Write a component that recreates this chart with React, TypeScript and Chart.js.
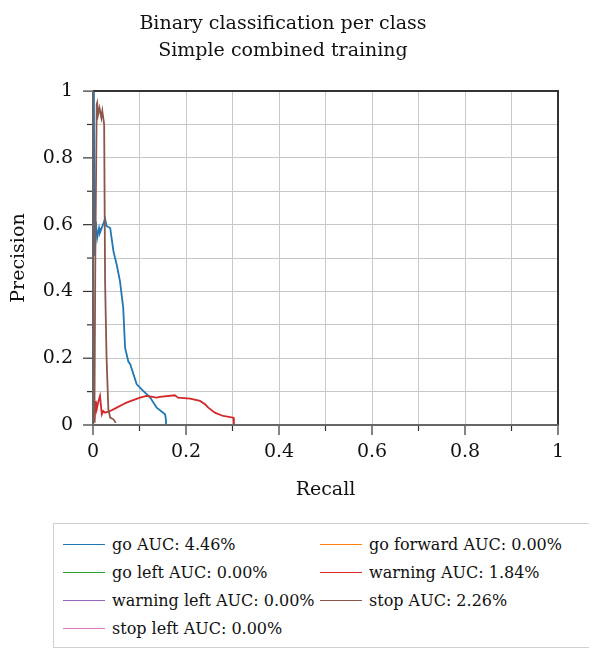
import React, { useEffect, useRef } from "react";
import { Chart, registerables } from "chart.js";

Chart.register(...registerables);

const titleLines = ["Binary classification per class", "Simple combined training"];
const xTitle = "Recall";
const yTitle = "Precision";
const tickValues = [0, 0.1, 0.2, 0.3, 0.4, 0.5, 0.6, 0.7, 0.8, 0.9, 1];

const seriesLabels = [
  "go AUC: 4.46%",
  "go forward AUC: 0.00%",
  "go left AUC: 0.00%",
  "warning AUC: 1.84%",
  "warning left AUC: 0.00%",
  "stop AUC: 2.26%",
  "stop left AUC: 0.00%",
];
const seriesColors = ["#1f77b4", "#ff7f0e", "#2ca02c", "#d62728", "#9467bd", "#8c564b", "#e377c2"];

// go
const goRecall = [0.002, 0.003, 0.006, 0.009, 0.013, 0.015, 0.026, 0.029, 0.037, 0.040, 0.044, 0.051, 0.058, 0.065, 0.069, 0.076, 0.080, 0.094, 0.108, 0.123, 0.137, 0.155, 0.157, 0.157];
const goPrecision = [1.0, 0.506, 0.61, 0.56, 0.59, 0.576, 0.617, 0.596, 0.59, 0.56, 0.52, 0.48, 0.431, 0.351, 0.231, 0.19, 0.182, 0.122, 0.102, 0.082, 0.052, 0.032, 0.015, 0.002];
// go forward, go left, warning left, stop left: no points
const goForwardRecall: number[] = [];
const goForwardPrecision: number[] = [];
const goLeftRecall: number[] = [];
const goLeftPrecision: number[] = [];
const warningLeftRecall: number[] = [];
const warningLeftPrecision: number[] = [];
const stopLeftRecall: number[] = [];
const stopLeftPrecision: number[] = [];
// warning
const warningRecall = [0.003, 0.006, 0.008, 0.011, 0.015, 0.019, 0.022, 0.026, 0.037, 0.051, 0.065, 0.072, 0.101, 0.115, 0.137, 0.144, 0.176, 0.183, 0.209, 0.23, 0.241, 0.248, 0.262, 0.28, 0.302, 0.303];
const warningPrecision = [0.007, 0.072, 0.047, 0.067, 0.087, 0.032, 0.042, 0.037, 0.042, 0.052, 0.062, 0.067, 0.082, 0.087, 0.082, 0.084, 0.089, 0.082, 0.079, 0.072, 0.062, 0.052, 0.037, 0.027, 0.022, 0.002];
// stop
const stopRecall = [0.003, 0.005, 0.008, 0.009, 0.011, 0.014, 0.018, 0.020, 0.023, 0.024, 0.026, 0.029, 0.033, 0.037, 0.044, 0.049];
const stopPrecision = [0.007, 0.5, 0.96, 0.965, 0.93, 0.95, 0.92, 0.94, 0.91, 0.90, 0.43, 0.21, 0.047, 0.022, 0.017, 0.007];

const seriesRecall = [goRecall, goForwardRecall, goLeftRecall, warningRecall, warningLeftRecall, stopRecall, stopLeftRecall];
const seriesPrecision = [goPrecision, goForwardPrecision, goLeftPrecision, warningPrecision, warningLeftPrecision, stopPrecision, stopLeftPrecision];

const FONT = "'DejaVu Serif', 'Liberation Serif', serif";

const framePlugin = {
  id: "frame",
  afterDraw(chart: any) {
    const { ctx, chartArea: a, scales } = chart;
    ctx.save();
    ctx.strokeStyle = "#333";
    ctx.lineWidth = 1.2;
    tickValues.forEach((v, i) => {
      const major = i % 2 === 0;
      const len = major ? 10 : 6;
      const px = scales.x.getPixelForValue(v);
      ctx.beginPath();
      ctx.moveTo(px, a.bottom);
      ctx.lineTo(px, a.bottom + len);
      ctx.stroke();
      const py = scales.y.getPixelForValue(v);
      ctx.beginPath();
      ctx.moveTo(a.left, py);
      ctx.lineTo(a.left - len, py);
      ctx.stroke();
    });
    ctx.strokeStyle = "#333";
    ctx.lineWidth = 2;
    ctx.beginPath();
    ctx.moveTo(a.left, a.top);
    ctx.lineTo(a.right, a.top);
    ctx.lineTo(a.right, a.bottom);
    ctx.stroke();
    ctx.strokeStyle = "#666";
    ctx.lineWidth = 2;
    ctx.beginPath();
    ctx.moveTo(a.left, a.top);
    ctx.lineTo(a.left, a.bottom);
    ctx.lineTo(a.right, a.bottom);
    ctx.stroke();
    ctx.restore();
  },
};

export default function App() {
  const ref = useRef<HTMLCanvasElement | null>(null);
  useEffect(() => {
    if (!ref.current) return;
    const datasets = seriesLabels.map((label, i) => ({
      label,
      data: seriesRecall[i].map((r, j) => ({ x: r, y: seriesPrecision[i][j] })),
      borderColor: seriesColors[i],
      backgroundColor: seriesColors[i],
      borderWidth: 1.8,
      pointRadius: 0,
      tension: 0,
      fill: false,
      order: -i,
    }));
    const chart = new Chart(ref.current, {
      type: "line",
      data: { datasets },
      plugins: [framePlugin],
      options: {
        animation: false,
        responsive: false,
        maintainAspectRatio: false,
        layout: { padding: { left: 0, right: 31, top: 0, bottom: 0 } },
        plugins: {
          legend: { display: false },
          tooltip: { enabled: false },
          title: {
            display: true,
            text: titleLines,
            color: "#111",
            font: { family: FONT, size: 19, weight: "normal", lineHeight: 1.45 },
            padding: { top: 2, bottom: 26 },
          },
        },
        scales: {
          x: {
            type: "linear",
            min: 0,
            max: 1,
            afterBuildTicks: (s: any) => {
              s.ticks = tickValues.map((v) => ({ value: v }));
            },
            afterFit: (s: any) => {
              s.height = 80;
            },
            ticks: {
              autoSkip: false,
              color: "#111",
              font: { family: FONT, size: 19 },
              padding: 16,
              maxRotation: 0,
              callback: (v: any, i: number) => (i % 2 === 0 ? String(Math.round(Number(v) * 10) / 10) : ""),
            },
            grid: { color: "#c8c8c8", lineWidth: 1, drawTicks: false, tickLength: 0 },
            border: { display: false },
            title: {
              display: true,
              text: xTitle,
              color: "#111",
              font: { family: FONT, size: 19 },
              padding: { top: 6 },
            },
          },
          y: {
            type: "linear",
            min: 0,
            max: 1,
            afterBuildTicks: (s: any) => {
              s.ticks = tickValues.map((v) => ({ value: v }));
            },
            afterFit: (s: any) => {
              s.width = 85;
            },
            ticks: {
              autoSkip: false,
              color: "#111",
              font: { family: FONT, size: 19 },
              padding: 20,
              callback: (v: any, i: number) => (i % 2 === 0 ? String(Math.round(Number(v) * 10) / 10) : ""),
            },
            grid: { color: "#c8c8c8", lineWidth: 1, drawTicks: false, tickLength: 0 },
            border: { display: false },
            title: {
              display: true,
              text: yTitle,
              color: "#111",
              font: { family: FONT, size: 19 },
              padding: { top: 0, bottom: 0 },
            },
          },
        },
      },
    });
    return () => chart.destroy();
  }, []);

  const legendTops = [20, 48, 76, 104];
  return (
    <div style={{ position: "relative", width: 589, height: 643, overflow: "hidden" }}>
      <canvas ref={ref} width={581} height={497} style={{ position: "absolute", left: 0, top: 0, width: 581, height: 497 }} />
      <div
        style={{
          position: "absolute",
          left: 45,
          top: 515,
          width: 560,
          height: 125,
          border: "1.5px solid #d0d0d0",
          background: "#fff",
          boxSizing: "border-box",
        }}
      >
        {seriesLabels.map((label, i) => {
          const col = i % 2;
          const row = Math.floor(i / 2);
          const left = col === 0 ? 9 : 266;
          return (
            <div
              key={label}
              style={{
                position: "absolute",
                left,
                top: legendTops[row] - 14,
                height: 28,
                display: "flex",
                alignItems: "center",
                whiteSpace: "nowrap",
                fontFamily: FONT,
                fontSize: 16,
                color: "#111",
              }}
            >
              <span style={{ display: "inline-block", width: 42, height: 0, borderTop: `1.5px solid ${seriesColors[i]}`, marginRight: 7 }} />
              <span>{label}</span>
            </div>
          );
        })}
      </div>
    </div>
  );
}
